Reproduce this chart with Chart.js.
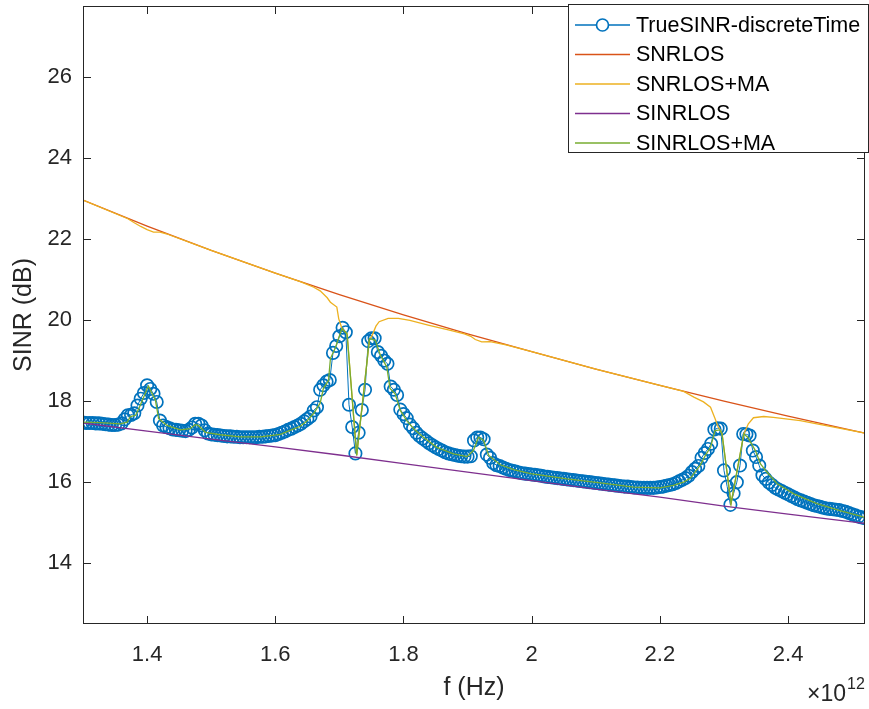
<!DOCTYPE html>
<html>
<head>
<meta charset="utf-8">
<script src="https://cdn.jsdelivr.net/npm/chart.js@4.4.1/dist/chart.umd.min.js"></script>
<style>
  html, body { margin: 0; padding: 0; background: #fff; }
  #wrap { width: 869px; height: 709px; }
</style>
</head>
<body>
<div id="wrap"><canvas id="sinrChart" width="869" height="709"></canvas></div>
<script>
// frequency grid of the simulated points, in units of 1e12 Hz
const freq = [
  1.300, 1.305, 1.310, 1.315, 1.320, 1.325, 1.330, 1.335, 1.340, 1.345,
  1.350, 1.355, 1.360, 1.365, 1.370, 1.375, 1.380, 1.385, 1.390, 1.395,
  1.400, 1.405, 1.410, 1.415, 1.420, 1.425, 1.430, 1.435, 1.440, 1.445,
  1.450, 1.455, 1.460, 1.465, 1.470, 1.475, 1.480, 1.485, 1.490, 1.495,
  1.500, 1.505, 1.510, 1.515, 1.520, 1.525, 1.530, 1.535, 1.540, 1.545,
  1.550, 1.555, 1.560, 1.565, 1.570, 1.575, 1.580, 1.585, 1.590, 1.595,
  1.600, 1.605, 1.610, 1.615, 1.620, 1.625, 1.630, 1.635, 1.640, 1.645,
  1.650, 1.655, 1.660, 1.665, 1.670, 1.675, 1.680, 1.685, 1.690, 1.695,
  1.700, 1.705, 1.710, 1.715, 1.720, 1.725, 1.730, 1.735, 1.740, 1.745,
  1.750, 1.755, 1.760, 1.765, 1.770, 1.775, 1.780, 1.785, 1.790, 1.795,
  1.800, 1.805, 1.810, 1.815, 1.820, 1.825, 1.830, 1.835, 1.840, 1.845,
  1.850, 1.855, 1.860, 1.865, 1.870, 1.875, 1.880, 1.885, 1.890, 1.895,
  1.900, 1.905, 1.910, 1.915, 1.920, 1.925, 1.930, 1.935, 1.940, 1.945,
  1.950, 1.955, 1.960, 1.965, 1.970, 1.975, 1.980, 1.985, 1.990, 1.995,
  2.000, 2.005, 2.010, 2.015, 2.020, 2.025, 2.030, 2.035, 2.040, 2.045,
  2.050, 2.055, 2.060, 2.065, 2.070, 2.075, 2.080, 2.085, 2.090, 2.095,
  2.100, 2.105, 2.110, 2.115, 2.120, 2.125, 2.130, 2.135, 2.140, 2.145,
  2.150, 2.155, 2.160, 2.165, 2.170, 2.175, 2.180, 2.185, 2.190, 2.195,
  2.200, 2.205, 2.210, 2.215, 2.220, 2.225, 2.230, 2.235, 2.240, 2.245,
  2.250, 2.255, 2.260, 2.265, 2.270, 2.275, 2.280, 2.285, 2.290, 2.295,
  2.300, 2.305, 2.310, 2.315, 2.320, 2.325, 2.330, 2.335, 2.340, 2.345,
  2.350, 2.355, 2.360, 2.365, 2.370, 2.375, 2.380, 2.385, 2.390, 2.395,
  2.400, 2.405, 2.410, 2.415, 2.420, 2.425, 2.430, 2.435, 2.440, 2.445,
  2.450, 2.455, 2.460, 2.465, 2.470, 2.475, 2.480, 2.485, 2.490, 2.495,
  2.500, 2.505, 2.510, 2.515, 2.520
];

// TrueSINR-discreteTime (dB), one value per freq
const trueSinr = [
  17.47, 17.46, 17.46, 17.46, 17.45, 17.45, 17.44, 17.43, 17.42, 17.41,
  17.41, 17.42, 17.45, 17.55, 17.65, 17.66, 17.70, 17.89, 18.06, 18.20,
  18.39, 18.30, 18.18, 17.98, 17.52, 17.40, 17.36, 17.33, 17.30, 17.29,
  17.28, 17.27, 17.26, 17.29, 17.35, 17.44, 17.44, 17.40, 17.28, 17.20,
  17.18, 17.17, 17.16, 17.15, 17.14, 17.13, 17.13, 17.12, 17.12, 17.11,
  17.11, 17.11, 17.11, 17.11, 17.11, 17.12, 17.12, 17.13, 17.14, 17.15,
  17.16, 17.19, 17.22, 17.25, 17.29, 17.32, 17.36, 17.40, 17.44, 17.50,
  17.56, 17.62, 17.77, 17.85, 18.28, 18.39, 18.48, 18.52, 19.19, 19.36,
  19.60, 19.81, 19.70, 17.91, 17.36, 16.71, 17.22, 17.78, 18.28, 19.48,
  19.55, 19.55, 19.21, 19.12, 19.00, 18.92, 18.36, 18.28, 18.15, 17.79,
  17.68, 17.58, 17.42, 17.33, 17.22, 17.14, 17.08, 17.02, 16.96, 16.91,
  16.86, 16.82, 16.78, 16.74, 16.71, 16.69, 16.67, 16.65, 16.64, 16.63,
  16.63, 16.64, 17.03, 17.10, 17.10, 17.06, 16.68, 16.60, 16.47, 16.42,
  16.40, 16.36, 16.33, 16.30, 16.28, 16.26, 16.24, 16.22, 16.21, 16.20,
  16.19, 16.18, 16.17, 16.16, 16.14, 16.13, 16.12, 16.11, 16.10, 16.09,
  16.08, 16.07, 16.06, 16.05, 16.04, 16.03, 16.02, 16.01, 16.00, 15.99,
  15.98, 15.97, 15.96, 15.95, 15.94, 15.93, 15.92, 15.91, 15.90, 15.89,
  15.89, 15.88, 15.87, 15.87, 15.86, 15.86, 15.86, 15.86, 15.86, 15.87,
  15.88, 15.89, 15.91, 15.93, 15.95, 15.98, 16.02, 16.06, 16.10, 16.16,
  16.25, 16.33, 16.40, 16.60, 16.72, 16.82, 16.95, 17.30, 17.33, 17.32,
  16.29, 15.89, 15.44, 15.72, 16.00, 16.41, 17.19, 17.18, 17.15, 16.78,
  16.62, 16.41, 16.17, 16.08, 15.99, 15.93, 15.86, 15.82, 15.78, 15.74,
  15.70, 15.66, 15.62, 15.58, 15.55, 15.52, 15.49, 15.46, 15.43, 15.41,
  15.39, 15.37, 15.35, 15.34, 15.33, 15.32, 15.31, 15.29, 15.27, 15.24,
  15.21, 15.18, 15.15, 15.13, 15.11
];

// LOS curves (smooth), sampled coarsely
const losFreq = [1.3, 1.4, 1.5, 1.6, 1.7, 1.8, 1.9, 2.0, 2.1, 2.2, 2.3, 2.4, 2.5, 2.52];
const snrLos  = [22.96, 22.32, 21.72, 21.16, 20.63, 20.13, 19.66, 19.22, 18.79, 18.39, 18.00, 17.63, 17.28, 17.21];
const sinrLos = [17.46, 17.26, 17.06, 16.87, 16.67, 16.46, 16.25, 16.04, 15.83, 15.63, 15.41, 15.21, 15.02, 14.98];

// SNRLOS+MA, bend points
const snrMaFreq = [
  1.300, 1.370, 1.380, 1.390, 1.400, 1.410, 1.420, 1.430, 1.500, 1.600,
  1.640, 1.660, 1.670, 1.681, 1.686, 1.696, 1.699, 1.704, 1.712, 1.727,
  1.747, 1.750, 1.757, 1.762, 1.776, 1.792, 1.810, 1.840, 1.870, 1.895,
  1.905, 1.912, 1.922, 1.935, 1.960, 2.000, 2.100, 2.200, 2.237, 2.253,
  2.268, 2.279, 2.286, 2.291, 2.294, 2.297, 2.311, 2.331, 2.338, 2.346,
  2.362, 2.377, 2.419, 2.445, 2.500, 2.520
];
const snrMa = [
  22.96, 22.50, 22.40, 22.31, 22.23, 22.17, 22.17, 22.13, 21.72, 21.16,
  20.94, 20.81, 20.72, 20.55, 20.44, 20.32, 20.03, 19.79, 19.66, 16.66,
  19.54, 19.58, 19.85, 19.96, 20.04, 20.04, 19.99, 19.87, 19.76, 19.66,
  19.60, 19.52, 19.46, 19.47, 19.39, 19.22, 18.79, 18.39, 18.24, 18.10,
  17.98, 17.85, 17.57, 17.36, 17.29, 17.19, 15.47, 17.19, 17.44, 17.59,
  17.62, 17.60, 17.52, 17.44, 17.27, 17.21
];

// SINRLOS+MA, bend points
const sinrMaFreq = [
  1.300, 1.327, 1.358, 1.369, 1.374, 1.382, 1.387, 1.402, 1.408, 1.413,
  1.418, 1.431, 1.452, 1.467, 1.475, 1.480, 1.491, 1.514, 1.545, 1.577,
  1.608, 1.623, 1.639, 1.649, 1.660, 1.670, 1.675, 1.683, 1.686, 1.694,
  1.704, 1.712, 1.727, 1.747, 1.756, 1.764, 1.774, 1.779, 1.787, 1.795,
  1.805, 1.816, 1.831, 1.852, 1.878, 1.899, 1.909, 1.917, 1.925, 1.933,
  1.951, 1.972, 1.998, 2.055, 2.107, 2.159, 2.200, 2.221, 2.237, 2.248,
  2.253, 2.263, 2.271, 2.279, 2.286, 2.294, 2.297, 2.311, 2.331, 2.337,
  2.349, 2.357, 2.367, 2.383, 2.409, 2.445, 2.481, 2.520
];
const sinrMa = [
  17.48, 17.47, 17.44, 17.48, 17.62, 17.65, 17.81, 18.37, 18.18, 18.02,
  17.57, 17.40, 17.29, 17.32, 17.42, 17.40, 17.23, 17.17, 17.12, 17.12,
  17.18, 17.28, 17.38, 17.50, 17.70, 17.95, 18.31, 18.51, 19.05, 19.33,
  19.79, 19.66, 16.66, 19.54, 19.50, 19.13, 18.84, 18.31, 18.18, 17.77,
  17.52, 17.32, 17.11, 16.86, 16.70, 16.63, 16.78, 17.11, 17.03, 16.66,
  16.43, 16.31, 16.21, 16.08, 15.98, 15.88, 15.86, 15.92, 16.00, 16.10,
  16.21, 16.42, 16.66, 16.86, 17.27, 17.29, 17.19, 15.47, 17.19, 17.11,
  16.78, 16.45, 16.25, 15.96, 15.71, 15.47, 15.30, 15.13
];

const xTicks = [1.4, 1.6, 1.8, 2, 2.2, 2.4];
const yTicks = [14, 16, 18, 20, 22, 24, 26];
const seriesNames = ['TrueSINR-discreteTime', 'SNRLOS', 'SNRLOS+MA', 'SINRLOS', 'SINRLOS+MA'];
const seriesColors = ['#0072BD', '#D95319', '#EDB120', '#7E2F8E', '#77AC30'];

const FONT = "'Liberation Sans', Arial, Helvetica, sans-serif";
const AXIS = '#262626';

function pts(xs, ys) {
  return xs.map((x, i) => ({ x: x, y: ys[i] }));
}

function lineSet(label, xs, ys, color, order) {
  return {
    label: label,
    data: pts(xs, ys),
    borderColor: color,
    borderWidth: 1.3,
    pointRadius: 0,
    fill: false,
    tension: 0,
    order: order
  };
}

// no extra room for label overhang, the plot box is fixed
function noOverhang(s) {
  s.paddingTop = 0;
  s.paddingBottom = 0;
  s.paddingLeft = 0;
  s.paddingRight = 0;
}

// frame, inward ticks, legend box and the x10^12 exponent
const matlabBox = {
  id: 'matlabBox',
  afterDraw(chart) {
    const ctx = chart.ctx;
    const a = chart.chartArea;
    const xs = chart.scales.x, ys = chart.scales.y;
    const tl = 8;
    ctx.save();
    ctx.strokeStyle = AXIS;
    ctx.lineWidth = 1;
    ctx.strokeRect(a.left + 0.5, a.top + 0.5, a.right - a.left - 1, a.bottom - a.top - 1);
    ctx.beginPath();
    xTicks.forEach(v => {
      const px = Math.round(xs.getPixelForValue(v)) + 0.5;
      ctx.moveTo(px, a.bottom); ctx.lineTo(px, a.bottom - tl);
      ctx.moveTo(px, a.top); ctx.lineTo(px, a.top + tl);
    });
    yTicks.forEach(v => {
      const py = Math.round(ys.getPixelForValue(v)) + 0.5;
      ctx.moveTo(a.left, py); ctx.lineTo(a.left + tl, py);
      ctx.moveTo(a.right, py); ctx.lineTo(a.right - tl, py);
    });
    ctx.stroke();

    // legend
    const lx = 568, ly = 4, lw = 300, lh = 148;
    ctx.fillStyle = '#fff';
    ctx.fillRect(lx, ly, lw, lh);
    ctx.strokeStyle = AXIS;
    ctx.strokeRect(lx + 0.5, ly + 0.5, lw, lh);
    ctx.font = '21.5px ' + FONT;
    ctx.textBaseline = 'middle';
    ctx.textAlign = 'left';
    seriesNames.forEach((name, i) => {
      const cy = 25 + i * 29.5;
      ctx.strokeStyle = seriesColors[i];
      ctx.lineWidth = 1.3;
      ctx.beginPath();
      ctx.moveTo(575, cy); ctx.lineTo(630, cy);
      ctx.stroke();
      if (i === 0) {
        ctx.lineWidth = 1.7;
        ctx.beginPath();
        ctx.arc(602.5, cy, 6, 0, Math.PI * 2);
        ctx.fillStyle = '#fff';
        ctx.fill();
        ctx.stroke();
      }
      ctx.fillStyle = '#000';
      ctx.fillText(name, 636, cy + 1);
    });

    // exponent label
    ctx.fillStyle = AXIS;
    ctx.textBaseline = 'alphabetic';
    ctx.textAlign = 'right';
    ctx.font = '23px ' + FONT;
    ctx.fillText('\u00d710', 846, 701);
    ctx.textAlign = 'left';
    ctx.font = '16px ' + FONT;
    ctx.fillText('12', 847, 689);
    ctx.restore();
  }
};

const chart = new Chart(document.getElementById('sinrChart'), {
  type: 'line',
  data: {
    datasets: [
      {
        label: seriesNames[0],
        data: pts(freq, trueSinr),
        borderColor: seriesColors[0],
        borderWidth: 1,
        pointStyle: 'circle',
        pointRadius: 6.2,
        pointBorderWidth: 1.7,
        pointBorderColor: seriesColors[0],
        pointBackgroundColor: 'rgba(0,0,0,0)',
        fill: false,
        tension: 0,
        order: 5
      },
      lineSet(seriesNames[1], losFreq, snrLos, seriesColors[1], 4),
      lineSet(seriesNames[2], snrMaFreq, snrMa, seriesColors[2], 3),
      lineSet(seriesNames[3], losFreq, sinrLos, seriesColors[3], 2),
      lineSet(seriesNames[4], sinrMaFreq, sinrMa, seriesColors[4], 1)
    ]
  },
  options: {
    responsive: false,
    animation: false,
    layout: { autoPadding: false, padding: { top: 6, right: 4, bottom: 0, left: 0 } },
    plugins: {
      legend: { display: false },
      tooltip: { enabled: false }
    },
    scales: {
      x: {
        type: 'linear',
        min: 1.3,
        max: 2.52,
        afterBuildTicks: s => { s.ticks = xTicks.map(v => ({ value: v })); },
        afterFit: s => { s.height = 85; noOverhang(s); },
        grid: { display: false, drawTicks: false },
        border: { display: false },
        ticks: {
          color: AXIS,
          font: { family: FONT, size: 22 },
          padding: 18,
          maxRotation: 0,
          callback: v => String(v)
        },
        title: {
          display: true,
          text: 'f (Hz)',
          color: AXIS,
          font: { family: FONT, size: 25 },
          padding: { top: 0, bottom: 6 }
        }
      },
      y: {
        type: 'linear',
        min: 12.5,
        max: 27.75,
        afterBuildTicks: s => { s.ticks = yTicks.map(v => ({ value: v })); },
        afterFit: s => { s.width = 83; noOverhang(s); },
        grid: { display: false, drawTicks: false },
        border: { display: false },
        ticks: {
          color: AXIS,
          font: { family: FONT, size: 22 },
          padding: 11,
          callback: v => String(v)
        },
        title: {
          display: true,
          text: 'SINR (dB)',
          color: AXIS,
          font: { family: FONT, size: 25 },
          padding: { top: 9, bottom: 0 }
        }
      }
    }
  },
  plugins: [matlabBox]
});
</script>
</body>
</html>
